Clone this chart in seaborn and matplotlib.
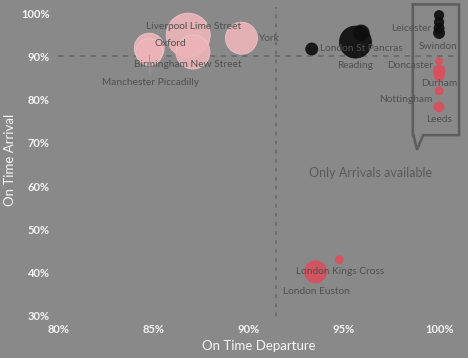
import matplotlib
matplotlib.use("Agg")
import matplotlib.pyplot as plt
import seaborn as sns
import pandas as pd

# station data
stations = ["Liverpool Lime Street", "Oxford", "Birmingham New Street", "Manchester Piccadilly", "York",
            "", "London St Pancras", "Reading",
            "", "", "Leicester", "Swindon",
            "Doncaster", "Durham", "", "Nottingham", "Leeds",
            "London Kings Cross", "London Euston"]
departure = [86.8, 84.75, 87.05, 84.75, 89.6,
             93.3, 95.9, 95.6,
             100.0, 100.0, 100.0, 100.0,
             100.0, 100.0, 100.0, 100.0, 100.0,
             94.75, 93.5]
arrival = [94.9, 91.9, 91.0, 91.0, 94.2,
           91.7, 95.4, 93.3,
           99.5, 97.9, 96.5, 95.4,
           88.9, 86.6, 85.5, 82.0, 78.3,
           43.0, 40.2]
volume = [484, 225, 289, 180, 256,
          36, 64, 256,
          22, 22, 25, 30,
          12, 36, 25, 16, 25,
          16, 121]
group = ["both", "both", "both", "both", "both",
         "dep", "dep", "dep",
         "dep", "dep", "dep", "dep",
         "arr", "arr", "arr", "arr", "arr",
         "arr", "arr"]

df = pd.DataFrame({"station": stations, "departure": departure, "arrival": arrival,
                   "volume": volume, "group": group})

bg = "#898989"
palette = {"both": "#ecb4b8", "dep": "#0e0e0e", "arr": "#d9505d"}

fig = plt.figure(figsize=(4.68, 3.58), dpi=100, facecolor=bg)
ax = fig.add_axes([58 / 468, 42 / 358, 402 / 468, 312 / 358])
ax.set_facecolor(bg)

sns.scatterplot(data=df, x="departure", y="arrival", hue="group", palette=palette,
                size="volume", sizes=(0, 1036), size_norm=(0, 500), legend=False,
                alpha=0.92, edgecolor="#f2c6c9", linewidth=0.6, ax=ax, zorder=3)
# black and red points without the pink rim
for coll in ax.collections:
    cols = coll.get_facecolors()
    edges = []
    for c in cols:
        if c[0] < 0.3 or (c[0] > 0.8 and c[1] < 0.5):
            edges.append(c)
        else:
            edges.append((0.95, 0.78, 0.79, 1))
    coll.set_edgecolors(edges)

ax.set_xlim(79.95, 101.1)
ax.set_ylim(30, 102.1)

# reference lines
ax.axhline(90, color="#6b6b6b", ls=(0, (3, 3)), lw=1.3, zorder=1)
ax.plot([91.4, 91.4], [30.1, 101.3], color="#6b6b6b", ls=(0, (2, 3)), lw=1.3, zorder=1)

# station labels, offsets in pixels
label_offsets = {
    "Liverpool Lime Street": (5, 9, "center"),
    "Oxford": (21, 5, "center"),
    "Birmingham New Street": (-5, -12, "center"),
    "York": (17, 0, "left"),
    "London St Pancras": (0, -16, "center"),
    "Reading": (0, -23, "center"),
    "Leicester": (-8, 0, "right"),
    "Swindon": (-1, -14, "center"),
    "Doncaster": (-29, -4, "center"),
    "Durham": (0, -12, "center"),
    "Nottingham": (-33, -9, "center"),
    "Leeds": (0, -13, "center"),
    "London Kings Cross": (1, -12, "center"),
    "London Euston": (1, -20, "center"),
}
lab_color = "#505050"
for _, r in df.iterrows():
    if r["station"] in label_offsets:
        dx, dy, ha = label_offsets[r["station"]]
        ax.annotate(r["station"], (r["departure"], r["arrival"]), xytext=(dx, dy),
                    textcoords="offset pixels", ha=ha, va="center", fontsize=7.3,
                    color=lab_color, family="Lato", zorder=4)
man = df[df["station"] == "Manchester Piccadilly"].iloc[0]
ax.annotate("Manchester Piccadilly", (man["departure"], man["arrival"] + 0.9), xytext=(1, -34),
            textcoords="offset pixels", ha="center", va="center", fontsize=7.3,
            color=lab_color, family="Lato", zorder=4,
            arrowprops=dict(arrowstyle="-", color="#9a9a9a", lw=0.7, shrinkA=0, shrinkB=5))

# callout box around the arrivals-only stations
box_x = [98.62, 101.05, 101.05, 99.16, 98.84, 98.65, 98.62, 98.62]
box_y = [102.0, 102.0, 71.8, 71.8, 68.4, 71.8, 71.8, 102.0]
ax.plot(box_x, box_y, color="#5d5d5d", lw=1.8, clip_on=False, zorder=2, solid_joinstyle="miter")
ax.text(96.37, 63.0, "Only Arrivals available", ha="center", va="center", fontsize=9,
        color="#5a5a5a", family="Lato")

# axes styling
for s in ax.spines.values():
    s.set_visible(False)
ax.tick_params(length=0, colors="#f4f4f4", labelsize=8, pad=6)
ax.set_xticks([80, 85, 90, 95, 100])
ax.set_xticklabels(["80%", "85%", "90%", "95%", "100%"], fontweight="bold", family="Lato")
ax.set_yticks([30, 40, 50, 60, 70, 80, 90, 100])
ax.set_yticklabels([f"{v}%" for v in range(30, 101, 10)], fontweight="bold", family="Lato")
ax.set_xlabel("On Time Departure", color="#f6f6f6", fontsize=9.5, family="Lato", labelpad=3)
ax.set_ylabel("On Time Arrival", color="#f6f6f6", fontsize=9.5, family="Lato", labelpad=4)

fig.savefig("out.png", dpi=100, facecolor=bg)
